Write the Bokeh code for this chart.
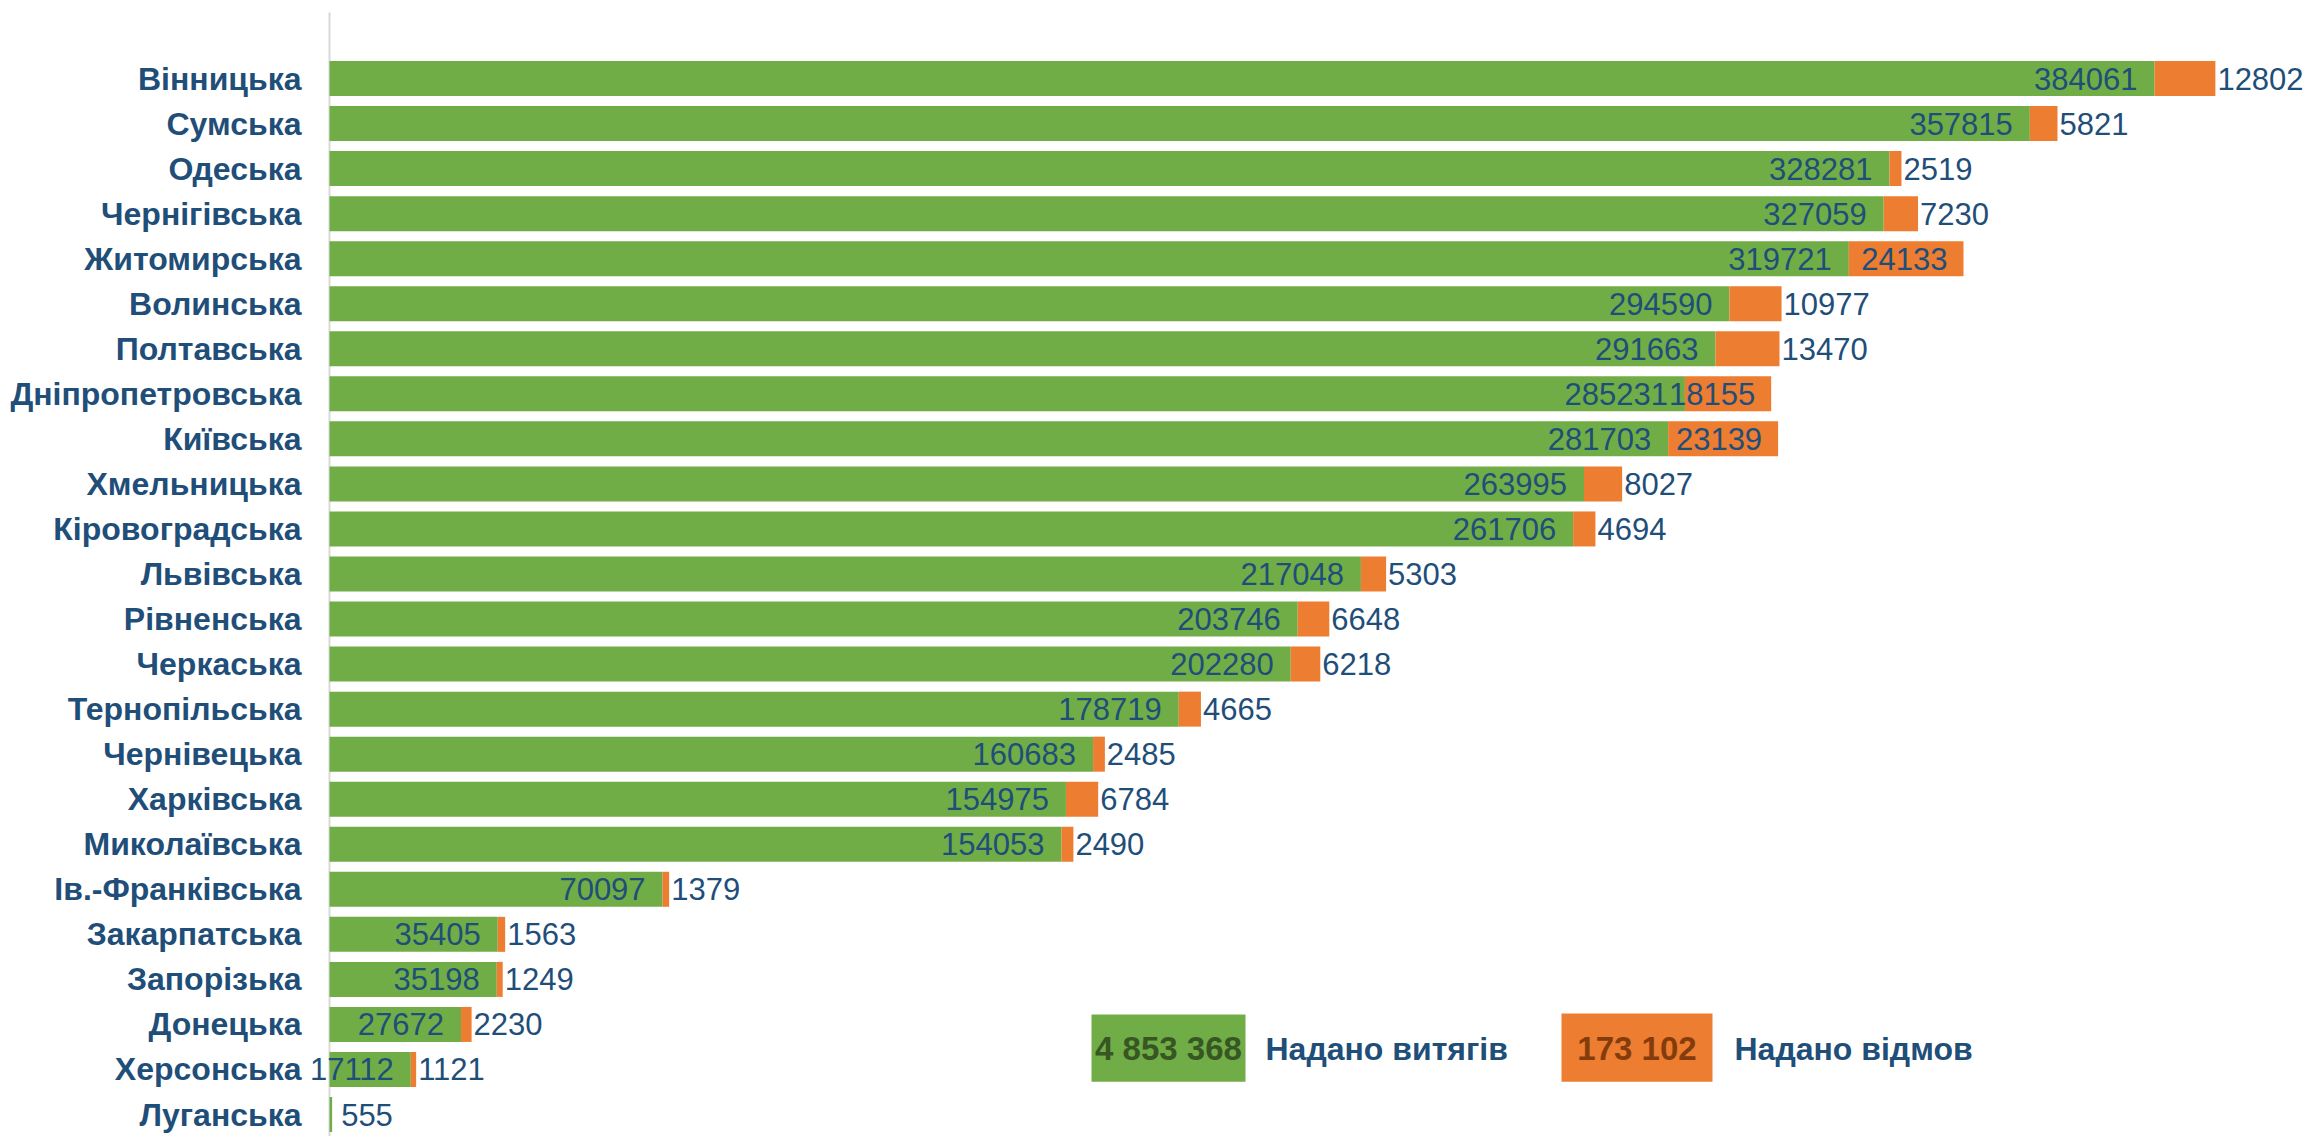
from bokeh.plotting import figure
from bokeh.models import ColumnDataSource, Range1d
from bokeh.core.properties import value
from bokeh.embed import file_html
from bokeh.resources import INLINE

# ---- data ----
regions = ["Вінницька", "Сумська", "Одеська", "Чернігівська", "Житомирська", "Волинська",
           "Полтавська", "Дніпропетровська", "Київська", "Хмельницька", "Кіровоградська",
           "Львівська", "Рівненська", "Черкаська", "Тернопільська", "Чернівецька",
           "Харківська", "Миколаївська", "Ів.-Франківська", "Закарпатська", "Запорізька",
           "Донецька", "Херсонська", "Луганська"]
extracts = [384061, 357815, 328281, 327059, 319721, 294590, 291663, 285231, 281703, 263995,
            261706, 217048, 203746, 202280, 178719, 160683, 154975, 154053, 70097, 35405,
            35198, 27672, 17112, 555]
refusals = [12802, 5821, 2519, 7230, 24133, 10977, 13470, 18155, 23139, 8027, 4694, 5303,
            6648, 6218, 4665, 2485, 6784, 2490, 1379, 1563, 1249, 2230, 1121, 0]
legend_labels = ["Надано витягів", "Надано відмов"]

GREEN = "#70AD47"
ORANGE = "#ED7D31"
BLUE = "#1F4E79"
FONT = "Liberation Sans"

idx = list(range(len(regions)))
totals = [a + b for a, b in zip(extracts, refusals)]

src = ColumnDataSource(dict(y=idx, name=regions, ext=extracts, ref=refusals, tot=totals))

p = figure(width=2305, height=1136, x_range=Range1d(-69234, 415825), y_range=Range1d(23.488, -1.732),
           output_backend="svg", toolbar_location=None,
           min_border_left=0, min_border_right=0, min_border_top=0, min_border_bottom=0)
p.xaxis.visible = False
p.yaxis.visible = False
p.grid.visible = False
p.outline_line_color = None

# category axis: line at zero and labels
p.segment(x0=[0], x1=[0], y0=[-1.466], y1=[23.488], line_color="#D9D9D9", line_width=2)
p.text(x=0, y="y", text="name", source=src, text_align="right", text_baseline="middle",
       x_offset=-28, text_font=value(FONT), text_font_style="bold",
       text_font_size=value("32px"), text_color=BLUE)

p.hbar(y="y", left=0, right="ext", height=0.777, source=src, fill_color=GREEN, line_color=None)
p.hbar(y="y", left="ext", right="tot", height=0.777, source=src, fill_color=ORANGE, line_color=None)


def add_labels(xs, ys, texts, align, offset):
    p.text(x=xs, y=ys, text=texts, text_align=align, text_baseline="middle", x_offset=offset,
           text_font=value(FONT), text_font_size=value("31px"), text_color=BLUE)


# green labels
gin = [i for i in idx if extracts[i] >= 10000]
gout = [i for i in idx if extracts[i] < 10000]
add_labels([extracts[i] for i in gin], gin, [str(extracts[i]) for i in gin], "right", -17)
add_labels([extracts[i] for i in gout], gout, [str(extracts[i]) for i in gout], "left", 9)

# orange labels
oin = [i for i in idx if refusals[i] > 15000]
oout = [i for i in idx if 0 < refusals[i] <= 15000]
add_labels([totals[i] for i in oin], oin, [str(refusals[i]) for i in oin], "right", -16)
add_labels([totals[i] for i in oout], oout, [str(refusals[i]) for i in oout], "left", 2)


# summary legend boxes
def fmt(n):
    return f"{n:,}".replace(",", " ")


tot_ext = sum(extracts)
tot_ref = sum(refusals)
p.quad(left=[160354, 259259], right=[192761, 291035], top=[20.78, 20.76], bottom=[22.27, 22.27],
       fill_color=[GREEN, ORANGE], line_color=None)
p.text(x=[176557, 275147], y=[21.54, 21.54], text=[fmt(tot_ext), fmt(tot_ref)],
       text_align="center", text_baseline="middle",
       text_font=value(FONT), text_font_style="bold", text_font_size=value("33px"),
       text_color=["#375623", "#843C0C"])
p.text(x=[196970, 295665], y=[21.54, 21.54], text=legend_labels,
       text_align="left", text_baseline="middle",
       text_font=value(FONT), text_font_style="bold", text_font_size=value("32px"),
       text_color=BLUE)

open("out.html", "w").write(file_html(p, INLINE))
